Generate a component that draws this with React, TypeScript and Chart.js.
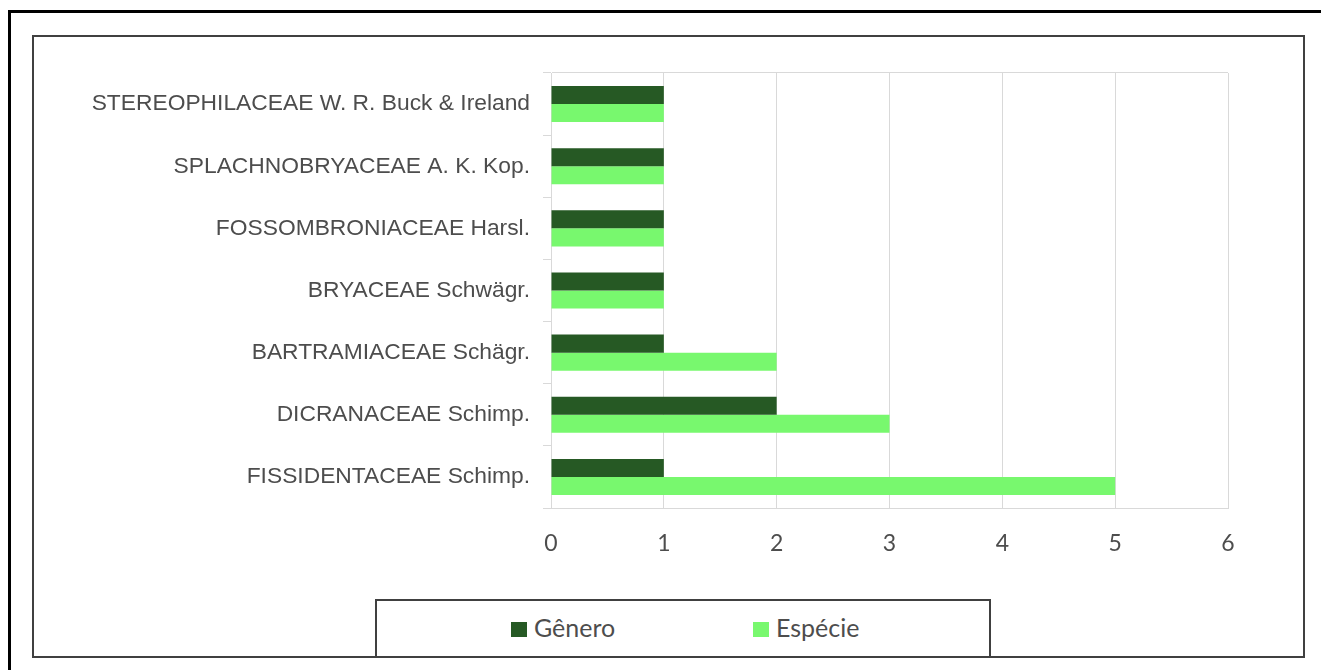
import React, { useEffect, useRef } from "react";
import { Chart, registerables } from "chart.js";

Chart.register(...registerables);

const categories = [
  "STEREOPHILACEAE W. R. Buck & Ireland",
  "SPLACHNOBRYACEAE A. K. Kop.",
  "FOSSOMBRONIACEAE Harsl.",
  "BRYACEAE Schwägr.",
  "BARTRAMIACEAE Schägr.",
  "DICRANACEAE Schimp.",
  "FISSIDENTACEAE Schimp.",
];
const generoValues = [1, 1, 1, 1, 1, 2, 1];
const especieValues = [1, 1, 1, 1, 2, 3, 5];
const seriesNames = ["Gênero", "Espécie"];
const seriesColors = ["#265924", "#78f86e"];
const xMin = 0;
const xMax = 6;
const xStep = 1;

const GRID = "#d9d9d9";
const TEXT = "#4d4d4d";

export default function App() {
  const canvasRef = useRef<HTMLCanvasElement | null>(null);

  useEffect(() => {
    if (!canvasRef.current) return;
    const chart = new Chart(canvasRef.current, {
      type: "bar",
      data: {
        labels: categories,
        datasets: [
          {
            label: seriesNames[0],
            data: generoValues,
            backgroundColor: seriesColors[0],
            borderWidth: 0,
            barPercentage: 1,
            categoryPercentage: 0.58,
          },
          {
            label: seriesNames[1],
            data: especieValues,
            backgroundColor: seriesColors[1],
            borderWidth: 0,
            barPercentage: 1,
            categoryPercentage: 0.58,
          },
        ],
      },
      options: {
        indexAxis: "y",
        animation: false,
        responsive: false,
        layout: { padding: { top: 36, right: 56, left: 0, bottom: 0 } },
        plugins: {
          legend: { display: false },
          tooltip: { enabled: false },
        },
        scales: {
          x: {
            type: "linear",
            min: xMin,
            max: xMax,
            ticks: {
              stepSize: xStep,
              color: TEXT,
              font: { family: "Lato", size: 23 },
              padding: 22,
            },
            grid: { color: GRID, lineWidth: 1, drawTicks: false },
            border: { display: true, color: GRID },
            afterFit: (s: any) => {
              s.height = 89;
            },
          },
          y: {
            type: "category",
            offset: true,
            ticks: {
              color: TEXT,
              font: { family: "Liberation Sans", size: 22.8 },
              padding: 13,
            },
            grid: {
              offset: true,
              drawOnChartArea: true,
              color: (ctx: any) => (ctx.index === 0 ? GRID : "rgba(0,0,0,0)"),
              tickColor: GRID,
              tickLength: 8,
              lineWidth: 1,
            },
            border: { display: true, color: GRID },
            afterFit: (s: any) => {
              s.width = 517;
            },
          },
        },
      },
    });
    return () => chart.destroy();
  }, []);

  const legendText: React.CSSProperties = {
    position: "absolute",
    top: 613,
    fontFamily: "Lato",
    fontSize: 25,
    color: TEXT,
    lineHeight: "29px",
  };

  return (
    <div
      style={{
        position: "absolute",
        left: 0,
        top: 0,
        width: 1321,
        height: 670,
        overflow: "hidden",
        background: "#fff",
      }}
    >
      <div
        style={{
          position: "absolute",
          left: 8,
          top: 10,
          width: 1400,
          height: 700,
          border: "3px solid #000",
          boxSizing: "border-box",
        }}
      />
      <div
        style={{
          position: "absolute",
          left: 32,
          top: 35,
          width: 1273,
          height: 623,
          border: "2px solid #404040",
          boxSizing: "border-box",
          background: "#fff",
        }}
      />
      <canvas
        ref={canvasRef}
        width={1250}
        height={560}
        style={{ position: "absolute", left: 34, top: 37, width: 1250, height: 560 }}
      />
      <div
        style={{
          position: "absolute",
          left: 375,
          top: 599,
          width: 616,
          height: 59,
          border: "2px solid #404040",
          boxSizing: "border-box",
        }}
      />
      <div
        style={{
          position: "absolute",
          left: 511,
          top: 622,
          width: 16,
          height: 15,
          background: seriesColors[0],
        }}
      />
      <div style={{ ...legendText, left: 534 }}>{seriesNames[0]}</div>
      <div
        style={{
          position: "absolute",
          left: 753,
          top: 622,
          width: 16,
          height: 15,
          background: seriesColors[1],
        }}
      />
      <div style={{ ...legendText, left: 776 }}>{seriesNames[1]}</div>
    </div>
  );
}
